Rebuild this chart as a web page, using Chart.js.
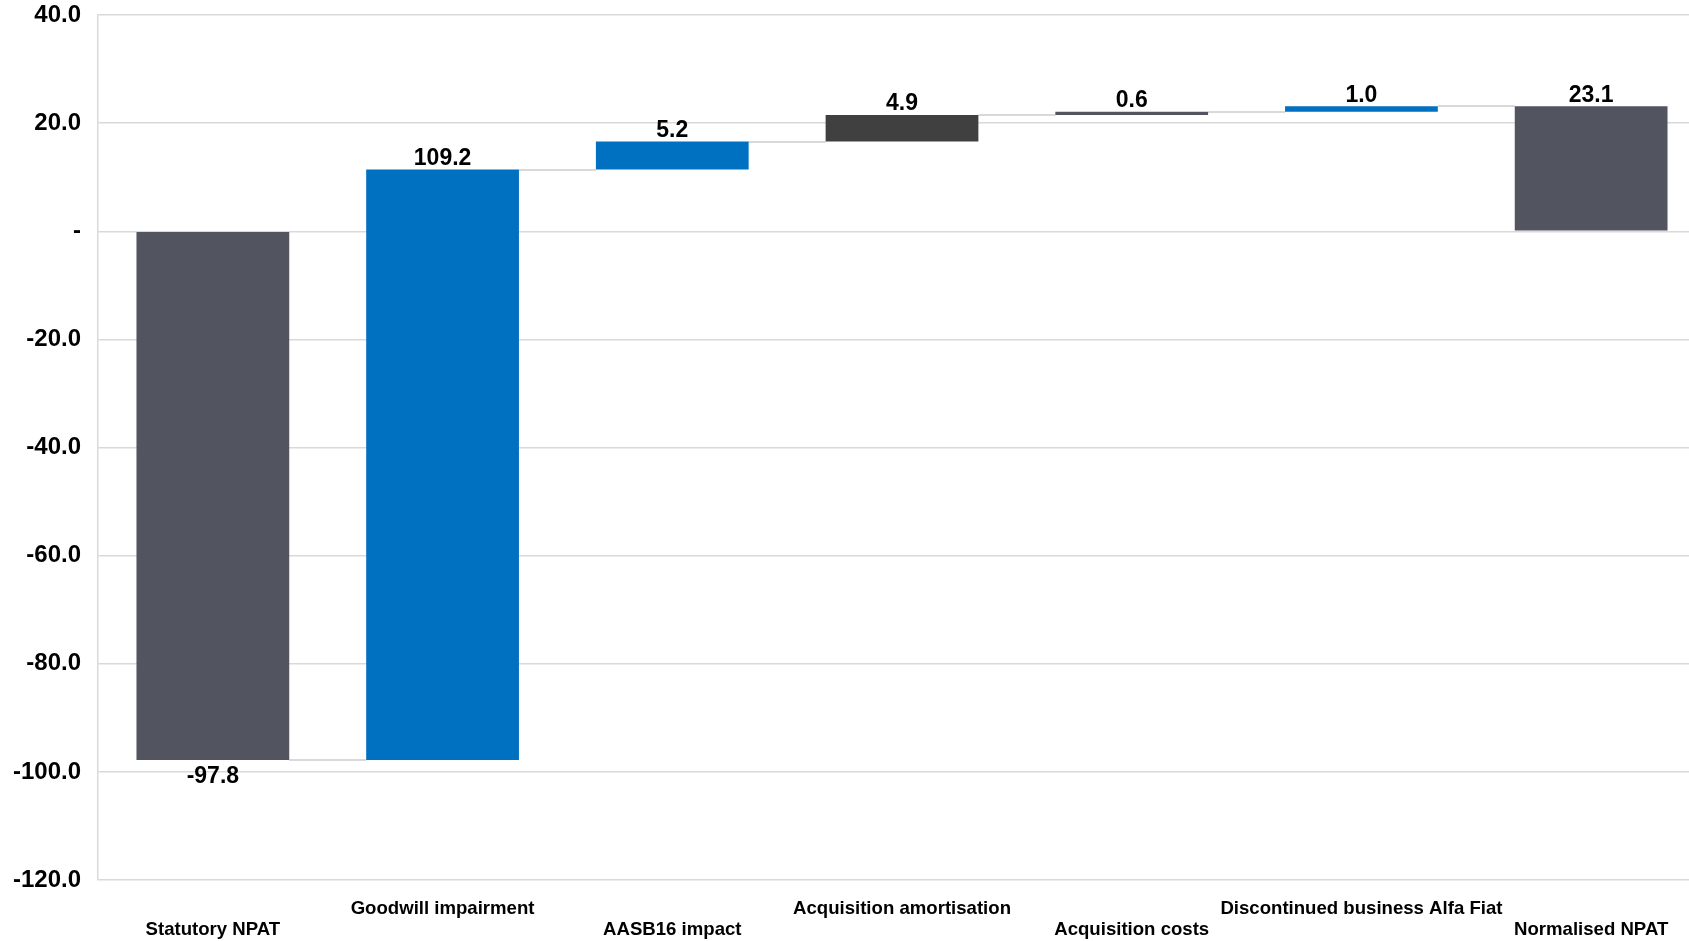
<!DOCTYPE html>
<html>
<head>
<meta charset="utf-8">
<script src="https://cdn.jsdelivr.net/npm/chart.js@4.4.1/dist/chart.umd.min.js"></script>
<style>
  html, body { margin: 0; padding: 0; background: #fff; overflow: hidden; }
  #wrap { width: 1706px; height: 941px; position: relative; }
</style>
</head>
<body>
<div id="wrap"><canvas id="npatChart"></canvas></div>
<script>
// categorie e valori (A$m)
const categories = ["Statutory NPAT", "Goodwill impairment", "AASB16 impact", "Acquisition amortisation",
                    "Acquisition costs", "Discontinued business Alfa Fiat", "Normalised NPAT"];
const deltas = [-97.8, 109.2, 5.2, 4.9, 0.6, 1.0, 23.1];
const isTotal = [true, false, false, false, false, false, true];
const barColors = ["#52545f", "#0070c0", "#0070c0", "#404040", "#52545f", "#0070c0", "#52545f"];
const yTicks = [40, 20, 0, -20, -40, -60, -80, -100, -120];

// costruisce le barre flottanti del waterfall
let running = 0;
const ranges = [];
const levels = [];
deltas.forEach((d, i) => {
    if (isTotal[i]) {
        ranges.push([0, d]);
        running = d;
    } else {
        ranges.push([running, running + d]);
        running = running + d;
    }
    levels.push(Math.round(running * 10) / 10);
});

const connectorPlugin = {
    id: "connectors",
    beforeDatasetsDraw(chart) {
        const meta = chart.getDatasetMeta(0);
        const y = chart.scales.y;
        const ctx = chart.ctx;
        ctx.save();
        ctx.strokeStyle = "#d9d9d9";
        ctx.lineWidth = 2;
        for (let i = 0; i < meta.data.length - 1; i++) {
            const a = meta.data[i], b = meta.data[i + 1];
            const py = Math.round(y.getPixelForValue(levels[i]));
            ctx.beginPath();
            ctx.moveTo(a.x + a.width / 2, py);
            ctx.lineTo(b.x - b.width / 2, py);
            ctx.stroke();
        }
        ctx.restore();
    }
};

const labelPlugin = {
    id: "valueLabels",
    afterDatasetsDraw(chart) {
        const meta = chart.getDatasetMeta(0);
        const y = chart.scales.y;
        const ctx = chart.ctx;
        ctx.save();
        ctx.font = "bold 23px 'Liberation Sans', Arial, sans-serif";
        ctx.fillStyle = "#000";
        ctx.textAlign = "center";
        ctx.textBaseline = "middle";
        meta.data.forEach((el, i) => {
            const top = y.getPixelForValue(Math.max(ranges[i][0], ranges[i][1]));
            const bottom = y.getPixelForValue(Math.min(ranges[i][0], ranges[i][1]));
            const txt = deltas[i].toFixed(1);
            if (deltas[i] < 0) {
                ctx.fillText(txt, el.x, bottom + 17);
            } else {
                ctx.fillText(txt, el.x, top - 11);
            }
        });
        ctx.restore();
    }
};

const ctx = document.getElementById("npatChart").getContext("2d");
window.myChart = new Chart(ctx, {
    type: "bar",
    data: {
        labels: categories,
        datasets: [{
            data: ranges,
            backgroundColor: barColors,
            borderWidth: 0,
            barPercentage: 0.665,
            categoryPercentage: 1.0
        }]
    },
    options: {
        responsive: true,
        maintainAspectRatio: false,
        animation: false,
        layout: { padding: 0 },
        plugins: {
            legend: { display: false },
            tooltip: { enabled: false }
        },
        scales: {
            x: {
                grid: { display: false },
                border: { display: false },
                afterFit: (scale) => { scale.height = 61; },
                ticks: {
                    autoSkip: false,
                    maxRotation: 0,
                    minRotation: 0,
                    padding: 10,
                    color: "#000",
                    font: { family: "'Liberation Sans', Arial, sans-serif", size: 18.6, weight: "bold", lineHeight: 1.15 },
                    callback: function (value, index) {
                        const name = categories[index];
                        return index % 2 === 0 ? ["", name] : [name, ""];
                    }
                }
            },
            y: {
                min: -120,
                max: 40,
                afterFit: (scale) => {
                    scale.width = 98;
                    scale.paddingTop = 15;   // 40.0 a y=15 come nel riferimento
                    scale.paddingBottom = 0;
                },
                afterBuildTicks: (scale) => { scale.ticks = yTicks.map(v => ({ value: v })); },
                grid: { color: "#d9d9d9", lineWidth: 1.5, drawTicks: false },
                border: { display: true, color: "#d9d9d9", width: 1.5 },
                ticks: {
                    padding: 17,
                    color: "#000",
                    font: { family: "'Liberation Sans', Arial, sans-serif", size: 24, weight: "bold" },
                    callback: (v) => v === 0 ? "-" : Number(v).toFixed(1)
                }
            }
        }
    },
    plugins: [connectorPlugin, labelPlugin]
});
</script>
</body>
</html>
